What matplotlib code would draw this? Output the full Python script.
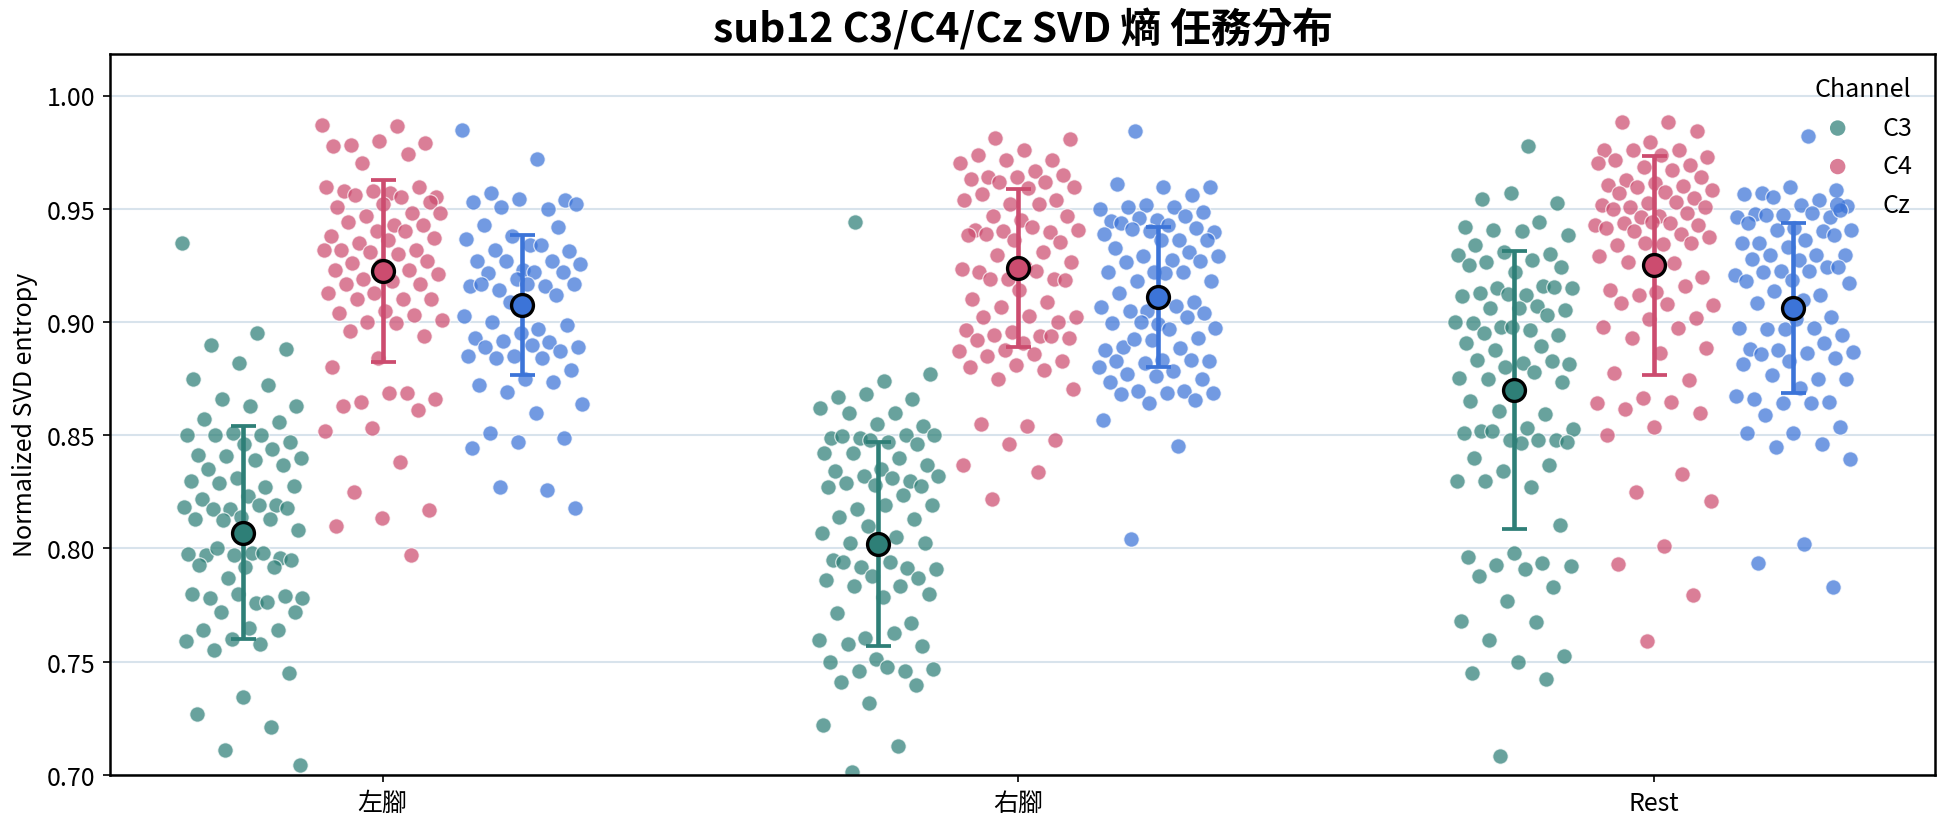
import numpy as np
import matplotlib
matplotlib.use("Agg")
import matplotlib.pyplot as plt

plt.rcParams['font.family'] = ['Noto Sans CJK TC', 'DejaVu Sans']

tasks = ['左腳', '右腳', 'Rest']
channels = ['C3', 'C4', 'Cz']
colors = {'C3': '#2E7F77', 'C4': '#CC4C6F', 'Cz': '#3C74D8'}

# normalized SVD entropy per trial
left_c3 = [0.935, 0.895, 0.890, 0.888, 0.882, 0.875, 0.872, 0.866, 0.863, 0.863,
           0.857, 0.856, 0.851, 0.850, 0.850, 0.850, 0.847, 0.846, 0.8415, 0.844,
           0.841, 0.840, 0.839, 0.835, 0.837, 0.831, 0.830, 0.827, 0.829, 0.8275,
           0.823, 0.822, 0.819, 0.8175, 0.8185, 0.819, 0.8175, 0.818, 0.814, 0.813,
           0.813, 0.8125, 0.808, 0.798, 0.797, 0.796, 0.797, 0.7975, 0.798, 0.800,
           0.795, 0.792, 0.7925, 0.792, 0.787, 0.778, 0.776, 0.778, 0.779, 0.780,
           0.780, 0.7765, 0.772, 0.772, 0.765, 0.764, 0.764, 0.760, 0.759, 0.758,
           0.755, 0.745, 0.7345, 0.727, 0.721, 0.711, 0.7045]
left_c4 = [0.987, 0.9867, 0.978, 0.979, 0.980, 0.9776, 0.974, 0.970, 0.955, 0.957,
           0.958, 0.9594, 0.958, 0.9594, 0.955, 0.956, 0.953, 0.952, 0.951, 0.948,
           0.947, 0.948, 0.943, 0.944, 0.943, 0.940, 0.938, 0.940, 0.935, 0.937,
           0.936, 0.932, 0.932, 0.931, 0.932, 0.930, 0.926, 0.927, 0.925, 0.923,
           0.923, 0.919, 0.921, 0.918, 0.917, 0.917, 0.913, 0.913, 0.910, 0.910,
           0.910, 0.905, 0.904, 0.903, 0.900, 0.901, 0.8996, 0.896, 0.894, 0.884,
           0.880, 0.8687, 0.8645, 0.866, 0.8687, 0.863, 0.861, 0.853, 0.852, 0.838,
           0.825, 0.817, 0.8136, 0.810, 0.797]
left_cz = [0.985, 0.972, 0.957, 0.954, 0.9545, 0.953, 0.950, 0.951, 0.952, 0.934,
           0.943, 0.942, 0.938, 0.9365, 0.934, 0.932, 0.9315, 0.923, 0.927, 0.927,
           0.927, 0.9257, 0.9223, 0.9216, 0.9223, 0.919, 0.916, 0.916, 0.914, 0.917,
           0.917, 0.917, 0.912, 0.909, 0.9025, 0.897, 0.900, 0.8988, 0.895, 0.893,
           0.891, 0.8915, 0.889, 0.890, 0.889, 0.887, 0.885, 0.885, 0.884, 0.884,
           0.879, 0.875, 0.872, 0.8733, 0.869, 0.864, 0.860, 0.851, 0.849, 0.847,
           0.8445, 0.826, 0.827, 0.818]
right_c3 = [0.944, 0.877, 0.874, 0.867, 0.866, 0.868, 0.862, 0.860, 0.860, 0.854,
            0.855, 0.849, 0.850, 0.849, 0.850, 0.847, 0.8496, 0.846, 0.848, 0.842,
            0.840, 0.842, 0.837, 0.835, 0.834, 0.830, 0.832, 0.832, 0.831, 0.829,
            0.8275, 0.828, 0.827, 0.8235, 0.8176, 0.819, 0.8194, 0.814, 0.813, 0.810,
            0.807, 0.805, 0.8026, 0.8024, 0.8037, 0.7949, 0.7914, 0.792, 0.791, 0.794,
            0.794, 0.787, 0.788, 0.786, 0.7836, 0.7835, 0.780, 0.7786, 0.7716, 0.767,
            0.7604, 0.7594, 0.7628, 0.758, 0.757, 0.7513, 0.750, 0.746, 0.746, 0.747,
            0.7477, 0.741, 0.7396, 0.7316, 0.722, 0.713, 0.7015]
right_c4 = [0.9814, 0.9807, 0.976, 0.9736, 0.9714, 0.9717, 0.970, 0.9667, 0.964, 0.9647,
            0.964, 0.963, 0.962, 0.962, 0.9594, 0.959, 0.9565, 0.954, 0.952, 0.9538,
            0.952, 0.947, 0.9466, 0.945, 0.9406, 0.9396, 0.940, 0.9406, 0.942, 0.939,
            0.9355, 0.936, 0.9384, 0.931, 0.9296, 0.9267, 0.9245, 0.9223, 0.919, 0.919,
            0.9233, 0.9226, 0.919, 0.9186, 0.914, 0.910, 0.909, 0.9066, 0.902, 0.9025,
            0.902, 0.900, 0.8955, 0.8966, 0.8937, 0.8944, 0.893, 0.8908, 0.8922, 0.8937,
            0.8876, 0.887, 0.8857, 0.885, 0.883, 0.8808, 0.880, 0.8788, 0.875, 0.8706,
            0.854, 0.855, 0.848, 0.846, 0.8367, 0.8337, 0.822]
right_cz = [0.9845, 0.9594, 0.9594, 0.961, 0.956, 0.9516, 0.950, 0.951, 0.951, 0.9487,
            0.945, 0.9446, 0.9468, 0.946, 0.9399, 0.943, 0.9436, 0.9414, 0.940, 0.939,
            0.936, 0.941, 0.936, 0.936, 0.9326, 0.931, 0.929, 0.929, 0.9274, 0.9267,
            0.927, 0.9223, 0.9223, 0.922, 0.918, 0.918, 0.9216, 0.9128, 0.909, 0.9047,
            0.9066, 0.907, 0.9047, 0.904, 0.899, 0.8996, 0.902, 0.900, 0.8974, 0.8967,
            0.889, 0.893, 0.8922, 0.8878, 0.8886, 0.8927, 0.8827, 0.8834, 0.8827, 0.8832,
            0.882, 0.880, 0.8783, 0.877, 0.8747, 0.876, 0.8736, 0.8697, 0.8695, 0.8688,
            0.8685, 0.868, 0.8656, 0.8644, 0.8566, 0.8453, 0.804]
rest_c3 = [0.9776, 0.9543, 0.9526, 0.9568, 0.942, 0.9443, 0.9406, 0.9384, 0.940, 0.934,
           0.930, 0.931, 0.9296, 0.9274, 0.9267, 0.9245, 0.9219, 0.9252, 0.9157, 0.915,
           0.915, 0.912, 0.9128, 0.9154, 0.9123, 0.9113, 0.907, 0.906, 0.9054, 0.906,
           0.8996, 0.9033, 0.898, 0.900, 0.8966, 0.8952, 0.8944, 0.898, 0.8908, 0.8893,
           0.8878, 0.8813, 0.8817, 0.8834, 0.8827, 0.880, 0.8754, 0.878, 0.875, 0.8736,
           0.8717, 0.8651, 0.8593, 0.8607, 0.8527, 0.853, 0.852, 0.848, 0.848, 0.851,
           0.848, 0.8518, 0.847, 0.8466, 0.840, 0.837, 0.834, 0.830, 0.827, 0.8296,
           0.8104, 0.798, 0.7964, 0.7934, 0.7928, 0.7924, 0.791, 0.788, 0.7829, 0.7767,
           0.7678, 0.7675, 0.7595, 0.7525, 0.750, 0.745, 0.7425, 0.7085]
rest_c4 = [0.9884, 0.9884, 0.9842, 0.9795, 0.9758, 0.976, 0.9758, 0.9729, 0.9736, 0.9714,
           0.9692, 0.9685, 0.970, 0.967, 0.9629, 0.964, 0.9612, 0.9604, 0.960, 0.9597,
           0.9582, 0.9575, 0.9568, 0.9546, 0.9527, 0.9516, 0.953, 0.9509, 0.9509, 0.947,
           0.950, 0.948, 0.9465, 0.9428, 0.9436, 0.9436, 0.9428, 0.9443, 0.9414, 0.939,
           0.940, 0.9377, 0.9345, 0.934, 0.935, 0.9348, 0.929, 0.926, 0.9264, 0.920,
           0.9132, 0.914, 0.9157, 0.9118, 0.9077, 0.9081, 0.9084, 0.9018, 0.9015, 0.898,
           0.8974, 0.893, 0.8886, 0.8861, 0.8776, 0.8744, 0.8666, 0.8644, 0.8647, 0.8615,
           0.860, 0.8538, 0.850, 0.833, 0.8251, 0.8211, 0.8009, 0.793, 0.7793, 0.7591]
rest_cz = [0.982, 0.9568, 0.9582, 0.9597, 0.9565, 0.9538, 0.9553, 0.9512, 0.9515, 0.9475,
           0.9465, 0.9472, 0.9465, 0.948, 0.9472, 0.9494, 0.9414, 0.9436, 0.940, 0.9406,
           0.9406, 0.9362, 0.9348, 0.9384, 0.9333, 0.9348, 0.9295, 0.9296, 0.9296, 0.9274,
           0.9279, 0.9242, 0.9227, 0.9208, 0.9227, 0.9223, 0.9245, 0.9186, 0.918, 0.912,
           0.9138, 0.9172, 0.9095, 0.9084, 0.9022, 0.8971, 0.8974, 0.8974, 0.897, 0.8944,
           0.9013, 0.8881, 0.8908, 0.8878, 0.8867, 0.8864, 0.8857, 0.8842, 0.8827, 0.8813,
           0.875, 0.8764, 0.8747, 0.871, 0.8662, 0.8647, 0.8644, 0.8673, 0.8644, 0.8588,
           0.8537, 0.851, 0.851, 0.8462, 0.8449, 0.8396, 0.8019, 0.7934, 0.7829]

# per-task mean and SD as shown by the markers / error bars (order: 左腳, 右腳, Rest)
c3_mean = [0.807, 0.802, 0.870]
c3_sd = [0.047, 0.045, 0.0614]
c4_mean = [0.9225, 0.9238, 0.9251]
c4_sd = [0.040, 0.035, 0.0484]
cz_mean = [0.9075, 0.911, 0.9062]
cz_sd = [0.031, 0.031, 0.0377]

data = {
    ('左腳', 'C3'): left_c3, ('左腳', 'C4'): left_c4, ('左腳', 'Cz'): left_cz,
    ('右腳', 'C3'): right_c3, ('右腳', 'C4'): right_c4, ('右腳', 'Cz'): right_cz,
    ('Rest', 'C3'): rest_c3, ('Rest', 'C4'): rest_c4, ('Rest', 'Cz'): rest_cz,
}
means = {'C3': c3_mean, 'C4': c4_mean, 'Cz': cz_mean}
sds = {'C3': c3_sd, 'C4': c4_sd, 'Cz': cz_sd}

offsets = {'C3': -0.22, 'C4': 0.0, 'Cz': 0.22}
jitter = 0.095

fig, ax = plt.subplots(figsize=(12.96, 5.513), dpi=150)
fig.subplots_adjust(left=0.0566, right=0.9954, bottom=0.0617, top=0.934)

for i, task in enumerate(tasks):
    for ch in channels:
        y = np.asarray(data[(task, ch)])
        n = len(y)
        # deterministic spread (golden-ratio sequence) instead of random jitter
        spread = ((np.arange(n) * 0.618034 + 0.31 * i) % 1.0 - 0.5) * 2 * jitter
        x = i + offsets[ch] + spread
        ax.scatter(x, y, s=55, color=colors[ch], alpha=0.72, edgecolor='white',
                   linewidth=0.6, zorder=2, label=ch if i == 0 else None)

for ch in channels:
    xs = np.arange(len(tasks)) + offsets[ch]
    ax.errorbar(xs, means[ch], yerr=sds[ch], fmt='none', ecolor=colors[ch],
                elinewidth=2.2, capsize=6, capthick=1.8, zorder=3)
    ax.plot(xs, means[ch], 'o', ls='none', ms=10.5, mfc=colors[ch], mec='black',
            mew=1.6, zorder=4)

ax.set_xlim(-0.429, 2.443)
ax.set_ylim(0.70, 1.0185)
ax.set_xticks(range(len(tasks)))
ax.set_xticklabels(tasks)
ax.set_yticks(np.arange(0.70, 1.001, 0.05))
ax.yaxis.set_major_formatter(matplotlib.ticker.FormatStrFormatter('%.2f'))
ax.tick_params(labelsize=12)
ax.grid(axis='y', color='#d8e3ec', linewidth=1.0, zorder=0)
ax.set_axisbelow(True)
for sp in ax.spines.values():
    sp.set_linewidth(1.2)
    sp.set_color('black')

ax.set_ylabel('Normalized SVD entropy', fontsize=12)
ax.set_title('sub12 C3/C4/Cz SVD 熵 任務分布', fontsize=19.5, fontweight='bold', pad=6)

leg = ax.legend(title='Channel', loc='upper right', frameon=False, fontsize=12,
                title_fontsize=12, handletextpad=0.8, borderaxespad=0.5,
                labelspacing=0.5)
for h in leg.legend_handles:
    h.set_edgecolor('none')

fig.savefig('out.png', dpi=150)
